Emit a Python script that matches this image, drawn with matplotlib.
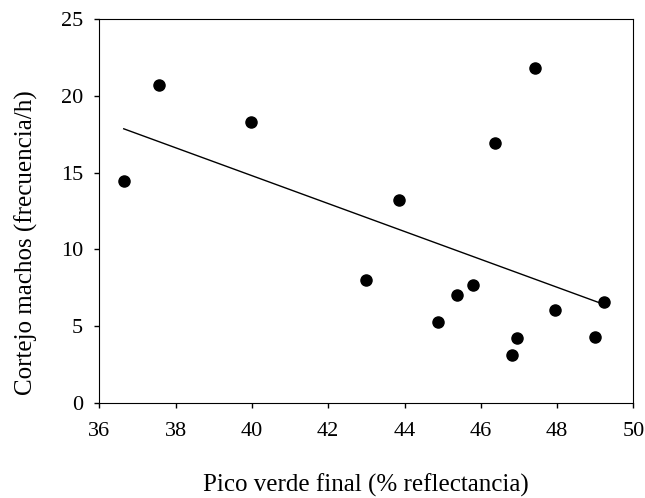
import matplotlib.pyplot as plt
import numpy as np

plt.rcParams['font.family'] = ['Liberation Serif', 'DejaVu Serif']

# datos
pico_verde = [36.64, 37.57, 39.97, 42.99, 43.86, 44.87, 45.38, 45.79,
              46.36, 46.81, 46.95, 47.42, 47.94, 49.00, 49.22]
cortejo = [14.47, 20.68, 18.31, 8.00, 13.22, 5.29, 7.01, 7.68,
           16.93, 3.13, 4.21, 21.81, 6.03, 4.28, 6.58]

x = np.array(pico_verde)
y = np.array(cortejo)

# recta de regresion
m, b = np.polyfit(x, y, 1)
xl = np.array([x.min(), x.max()])

fig = plt.figure(figsize=(6.45, 4.98), dpi=100)
ax = fig.add_axes([0.154, 0.191, 0.828, 0.771])

ax.scatter(x, y, s=64, color='black', zorder=3)
ax.plot(xl, m * xl + b, color='black', linewidth=1)

ax.set_xlim(36, 50)
ax.set_ylim(0, 25)
ax.set_xticks(np.arange(36, 51, 2))
ax.set_yticks(np.arange(0, 26, 5))
ax.tick_params(direction='out', length=3.6, width=1, labelsize=16, pad=10.5)
ax.tick_params(axis='y', pad=8)

ax.set_xlabel('Pico verde final (% reflectancia)', fontsize=18, labelpad=23)
ax.set_ylabel('Cortejo machos (frecuencia/h)', fontsize=18)
ax.yaxis.set_label_coords(-0.115, 0.417)

fig.savefig('out.png', dpi=100)
